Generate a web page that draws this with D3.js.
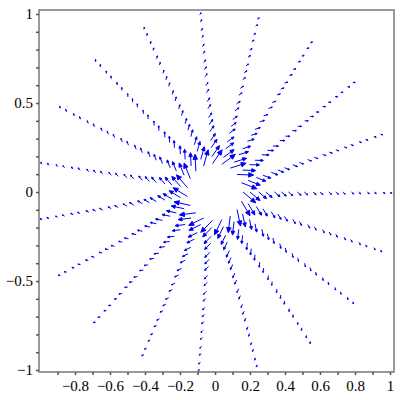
<!DOCTYPE html>
<html>
<head>
<meta charset="utf-8">
<script src="https://cdn.jsdelivr.net/npm/d3@7"></script>
<style>
   body { margin: 0; background: #fff; }
   svg { display: block; }
   svg text { font-family: 'Liberation Serif', 'Times New Roman', Times, serif !important; font-size: 15px; }
</style>
</head>
<body>
<div id="chart"></div>
<script>
// RAY DIRECTIONS (DEGREES)
var rayAngles = [0, 19, 38, 57, 76, 95, 114, 133, 152, 171, 189, 208, 227, 246, 265, 284, 303, 322, 341];

// DISTANCES OF THE ARROWS ALONG EACH RAY
var radii = [0.16, 0.2, 0.25, 0.29, 0.34, 0.38, 0.42, 0.47, 0.51, 0.56, 0.6, 0.65, 0.69, 0.73, 0.78, 0.82, 0.87, 0.91, 0.96, 1.0];

// ARROW LENGTH AT EACH DISTANCE
var arrowLengths = [0.095, 0.075, 0.058, 0.048, 0.041, 0.036, 0.032, 0.029, 0.026, 0.024, 0.022, 0.021, 0.02, 0.019, 0.018, 0.017, 0.016, 0.015, 0.015, 0.014];

// ARROW TURN AWAY FROM THE RAY (DEGREES, CLOCKWISE)
var arrowTurn = -40;

// TICKS
var xTicks = [-0.9, -0.8, -0.7, -0.6, -0.5, -0.4, -0.3, -0.2, -0.1, 0, 0.1, 0.2, 0.3, 0.4, 0.5, 0.6, 0.7, 0.8, 0.9, 1];
var xTickLabels = [-0.8, -0.6, -0.4, -0.2, 0, 0.2, 0.4, 0.6, 0.8, 1];
var yTicks = [-1, -0.9, -0.8, -0.7, -0.6, -0.5, -0.4, -0.3, -0.2, -0.1, 0, 0.1, 0.2, 0.3, 0.4, 0.5, 0.6, 0.7, 0.8, 0.9, 1];
var yTickLabels = [-1, -0.5, 0, 0.5, 1];

var settings = {
   width: 400,
   height: 400,
   frame: { left: 39, top: 10, right: 394, bottom: 372, color: '#808080' },
   arrow: { color: '#0000ee', width: 1, head: 0.3 }
}

// SCALES
var xScale = d3.scaleLinear().domain([-1, 1]).range([40, 390]);
var yScale = d3.scaleLinear().domain([-1, 1]).range([370, 14]);

var canvas = d3.select('#chart').append('svg')
   .attr('width', settings.width)
   .attr('height', settings.height)

// BUILD ARROWS FROM RAYS x RADII
var arrows = [];
rayAngles.forEach(function(a) {
   radii.forEach(function(r, i) {
      var t = a * Math.PI / 180;
      var d = (a + arrowTurn) * Math.PI / 180;
      var len = arrowLengths[i];
      arrows.push({
         x0: r * Math.cos(t), y0: r * Math.sin(t),
         x1: r * Math.cos(t) + len * Math.cos(d), y1: r * Math.sin(t) + len * Math.sin(d)
      });
   });
});

// ARROW PATH IN PIXELS
function arrowPath(p) {
   var x0 = xScale(p.x0), y0 = yScale(p.y0), x1 = xScale(p.x1), y1 = yScale(p.y1);
   var dx = x1 - x0, dy = y1 - y0, L = Math.sqrt(dx * dx + dy * dy);
   var ux = dx / L, uy = dy / L;
   var h = Math.max(L * settings.arrow.head, 1.2), w = h * 0.45;
   var bx = x1 - ux * h, by = y1 - uy * h;
   return 'M' + x0 + ',' + y0 + 'L' + bx + ',' + by +
      'M' + x1 + ',' + y1 + 'L' + (bx - uy * w) + ',' + (by + ux * w) +
      'L' + (bx + uy * w) + ',' + (by - ux * w) + 'Z';
}

canvas.append('g').selectAll('path')
   .data(arrows)
   .enter().append('path')
      .attr('d', arrowPath)
      .attr('fill', settings.arrow.color)
      .attr('stroke', settings.arrow.color)
      .attr('stroke-width', settings.arrow.width)

// FRAME
var f = settings.frame;
canvas.append('rect')
   .attr('x', f.left).attr('y', f.top)
   .attr('width', f.right - f.left).attr('height', f.bottom - f.top)
   .attr('fill', 'none')
   .attr('stroke', f.color)
   .attr('stroke-width', 1.6)

function fmt(v) { return String(v).replace('-', '\u2212'); }

// BOTTOM AXIS
canvas.append('g')
   .attr('transform', 'translate(0,' + f.bottom + ')')
   .call(d3.axisBottom(xScale).tickValues(xTicks).tickSize(3).tickPadding(5)
      .tickFormat(function(d) { return xTickLabels.indexOf(d) >= 0 ? fmt(d) : ''; }))

// LEFT AXIS
canvas.append('g')
   .attr('transform', 'translate(' + f.left + ',0)')
   .call(d3.axisLeft(yScale).tickValues(yTicks).tickSize(3).tickPadding(3)
      .tickFormat(function(d) { return yTickLabels.indexOf(d) >= 0 ? fmt(d) : ''; }))

canvas.selectAll('.domain').remove();
canvas.selectAll('.tick line').attr('stroke', '#555').attr('stroke-width', 1.5);
canvas.selectAll('.tick text').attr('fill', '#000');
</script>
</body>
</html>
